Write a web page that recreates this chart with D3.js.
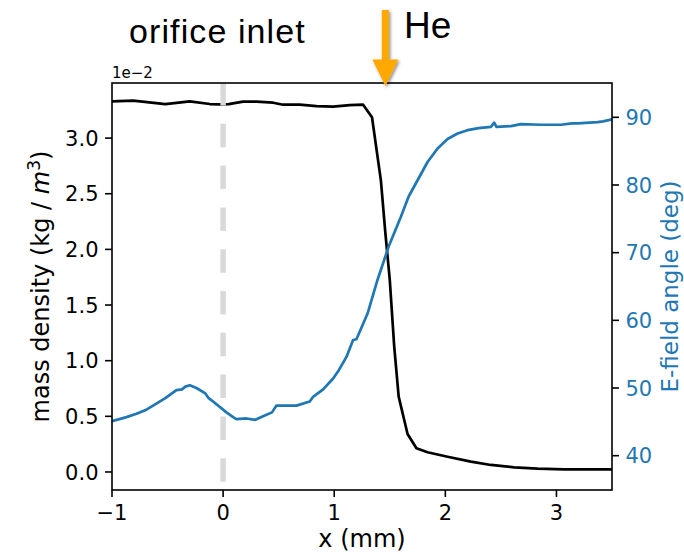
<!DOCTYPE html>
<html>
<head>
<meta charset="utf-8">
<script src="https://cdn.jsdelivr.net/npm/d3@7/dist/d3.min.js"></script>
<style>
  html, body { margin: 0; padding: 0; background: #fff; }
  svg { display: block; }
  text { font-family: "DejaVu Sans", sans-serif; }
</style>
</head>
<body>
<div id="chart"></div>
<script>
// Axis ticks
const xTicks = [-1, 0, 1, 2, 3];
const densityTicks = [0, 0.5, 1.0, 1.5, 2.0, 2.5, 3.0];
const angleTicks = [40, 50, 60, 70, 80, 90];

// Mass density along x (values in units of 1e-2 kg/m^3)
const densityX = [-1.0, -0.81, -0.52, -0.30, -0.12, -0.03, 0.05, 0.18, 0.30, 0.45, 0.54, 0.69, 0.84, 0.99, 1.14, 1.26, 1.34, 1.42, 1.46, 1.50, 1.54, 1.58, 1.66, 1.74, 1.84, 2.02, 2.23, 2.41, 2.62, 2.83, 3.07, 3.5];
const densityY = [3.33, 3.336, 3.306, 3.33, 3.306, 3.303, 3.305, 3.327, 3.327, 3.318, 3.30, 3.30, 3.288, 3.282, 3.297, 3.30, 3.187, 2.62, 2.15, 1.725, 1.126, 0.677, 0.341, 0.213, 0.177, 0.137, 0.093, 0.063, 0.042, 0.030, 0.024, 0.024];

// E-field angle along x (degrees)
const angleX = [-1.0, -0.87, -0.78, -0.69, -0.63, -0.52, -0.42, -0.37, -0.34, -0.30, -0.24, -0.16, -0.13, -0.09, 0.03, 0.09, 0.12, 0.21, 0.29, 0.37, 0.44, 0.48, 0.56, 0.66, 0.78, 0.81, 0.90, 0.99, 1.04, 1.11, 1.17, 1.20, 1.30, 1.39, 1.49, 1.60, 1.67, 1.75, 1.84, 1.93, 2.02, 2.11, 2.20, 2.30, 2.41, 2.44, 2.46, 2.59, 2.68, 2.86, 3.04, 3.14, 3.19, 3.37, 3.42, 3.50];
const angleY = [45.1, 45.7, 46.2, 46.8, 47.4, 48.5, 49.7, 49.8, 50.2, 50.4, 50.0, 49.2, 48.5, 48.0, 46.4, 45.7, 45.4, 45.5, 45.3, 45.9, 46.4, 47.4, 47.4, 47.4, 48.0, 48.7, 49.8, 51.4, 52.6, 54.6, 57.1, 57.2, 61.0, 66.0, 70.9, 75.3, 78.3, 80.7, 83.4, 85.4, 86.8, 87.6, 88.1, 88.4, 88.6, 89.2, 88.6, 88.7, 89.0, 88.9, 88.9, 89.1, 89.1, 89.3, 89.4, 89.7];

const inletX = 0;   // orifice inlet position (mm)
const heX = 1.46;   // He arrival marker (mm)

const W = 684, H = 554;
const m = { left: 112, right: 612, top: 83, bottom: 490 };
const blue = "#1f77b4";
const tickFont = 21, labelFont = 24;

const svg = d3.select("#chart").append("svg").attr("width", W).attr("height", H);

const x = d3.scaleLinear().domain([-1, 3.5]).range([m.left, m.right]);
const yL = d3.scaleLinear().domain([-0.162, 3.495]).range([m.bottom, m.top]);
const yR = d3.scaleLinear().domain([34.93, 95.07]).range([m.bottom, m.top]);

const defs = svg.append("defs");
defs.append("clipPath").attr("id", "plotclip").append("rect")
  .attr("x", m.left).attr("y", m.top)
  .attr("width", m.right - m.left).attr("height", m.bottom - m.top);
const shadow = defs.append("filter").attr("id", "shadow")
  .attr("x", "-50%").attr("y", "-20%").attr("width", "200%").attr("height", "140%");
shadow.append("feDropShadow").attr("dx", 1.5).attr("dy", 1.5)
  .attr("stdDeviation", 1.4).attr("flood-color", "#000").attr("flood-opacity", 0.45);

const fmtMinus = d => String(d).replace("-", "\u2212");

// Density curve
const plot = svg.append("g").attr("clip-path", "url(#plotclip)");
const density = densityX.map((d, i) => [d, densityY[i]]);
plot.append("path").datum(density)
  .attr("fill", "none").attr("stroke", "#000").attr("stroke-width", 2.7)
  .attr("stroke-linejoin", "round")
  .attr("d", d3.line().x(d => x(d[0])).y(d => yL(d[1])));

// Dashed marker at the orifice inlet
plot.append("line")
  .attr("x1", x(inletX)).attr("x2", x(inletX))
  .attr("y1", m.top - 1).attr("y2", m.bottom)
  .attr("stroke", "#d9d9d9").attr("stroke-width", 5.5)
  .attr("stroke-dasharray", "23.5,18.3");

// E-field angle curve
const angle = angleX.map((d, i) => [d, angleY[i]]);
plot.append("path").datum(angle)
  .attr("fill", "none").attr("stroke", blue).attr("stroke-width", 2.7)
  .attr("stroke-linejoin", "round")
  .attr("d", d3.line().x(d => x(d[0])).y(d => yR(d[1])));

// Frame
svg.append("rect")
  .attr("x", m.left).attr("y", m.top)
  .attr("width", m.right - m.left).attr("height", m.bottom - m.top)
  .attr("fill", "none").attr("stroke", "#000").attr("stroke-width", 1.6);

// Bottom axis
const gx = svg.append("g");
xTicks.forEach(t => {
  gx.append("line").attr("x1", x(t)).attr("x2", x(t))
    .attr("y1", m.bottom).attr("y2", m.bottom + 7)
    .attr("stroke", "#000").attr("stroke-width", 1.6);
  gx.append("text").attr("x", x(t)).attr("y", 519.5)
    .attr("text-anchor", "middle").attr("font-size", tickFont).text(fmtMinus(t));
});
svg.append("text").attr("x", (m.left + m.right) / 2).attr("y", 547)
  .attr("text-anchor", "middle").attr("font-size", labelFont).text("x (mm)");

// Left axis (density)
const gl = svg.append("g");
densityTicks.forEach(t => {
  gl.append("line").attr("x1", m.left - 7).attr("x2", m.left)
    .attr("y1", yL(t)).attr("y2", yL(t))
    .attr("stroke", "#000").attr("stroke-width", 1.6);
  gl.append("text").attr("x", 98.5).attr("y", yL(t) + 7.6)
    .attr("text-anchor", "end").attr("font-size", tickFont).text(d3.format(".1f")(t));
});
svg.append("text").attr("x", m.left).attr("y", 78)
  .attr("font-size", 15).text("1e\u22122");

const ylab = svg.append("text")
  .attr("transform", `translate(49,${(m.top + m.bottom) / 2}) rotate(-90)`)
  .attr("text-anchor", "middle").attr("font-size", labelFont);
ylab.append("tspan").text("mass density (kg / ");
ylab.append("tspan").attr("font-style", "italic").text("m");
ylab.append("tspan").attr("dy", -9).attr("font-size", 17).text("3");
ylab.append("tspan").attr("dy", 9).text(")");

// Right axis (angle)
const gr = svg.append("g");
angleTicks.forEach(t => {
  gr.append("line").attr("x1", m.right).attr("x2", m.right + 7)
    .attr("y1", yR(t)).attr("y2", yR(t))
    .attr("stroke", "#000").attr("stroke-width", 1.6);
  gr.append("text").attr("x", 625.5).attr("y", yR(t) + 7.6)
    .attr("fill", blue).attr("font-size", tickFont).text(t);
});
svg.append("text")
  .attr("transform", `translate(677.5,${(m.top + m.bottom) / 2}) rotate(-90)`)
  .attr("text-anchor", "middle").attr("font-size", 23).attr("fill", blue)
  .text("E-field angle (deg)");

// Annotations
svg.append("text").attr("x", 129).attr("y", 42.5)
  .style("font-family", "'Liberation Sans', Arial, sans-serif")
  .attr("font-size", 34).attr("letter-spacing", 1.1).text("orifice inlet");

const ax = x(heX);
svg.append("path")
  .attr("d", `M${ax - 3.5},10 L${ax + 3.5},10 L${ax + 3.5},59.5 L${ax + 13},59.5 L${ax},86 L${ax - 13},59.5 L${ax - 3.5},59.5 Z`)
  .attr("fill", "#ffa800").attr("filter", "url(#shadow)");

svg.append("text").attr("x", 404).attr("y", 38)
  .style("font-family", "'Liberation Sans', Arial, sans-serif")
  .attr("font-size", 37).text("He");
</script>
</body>
</html>
